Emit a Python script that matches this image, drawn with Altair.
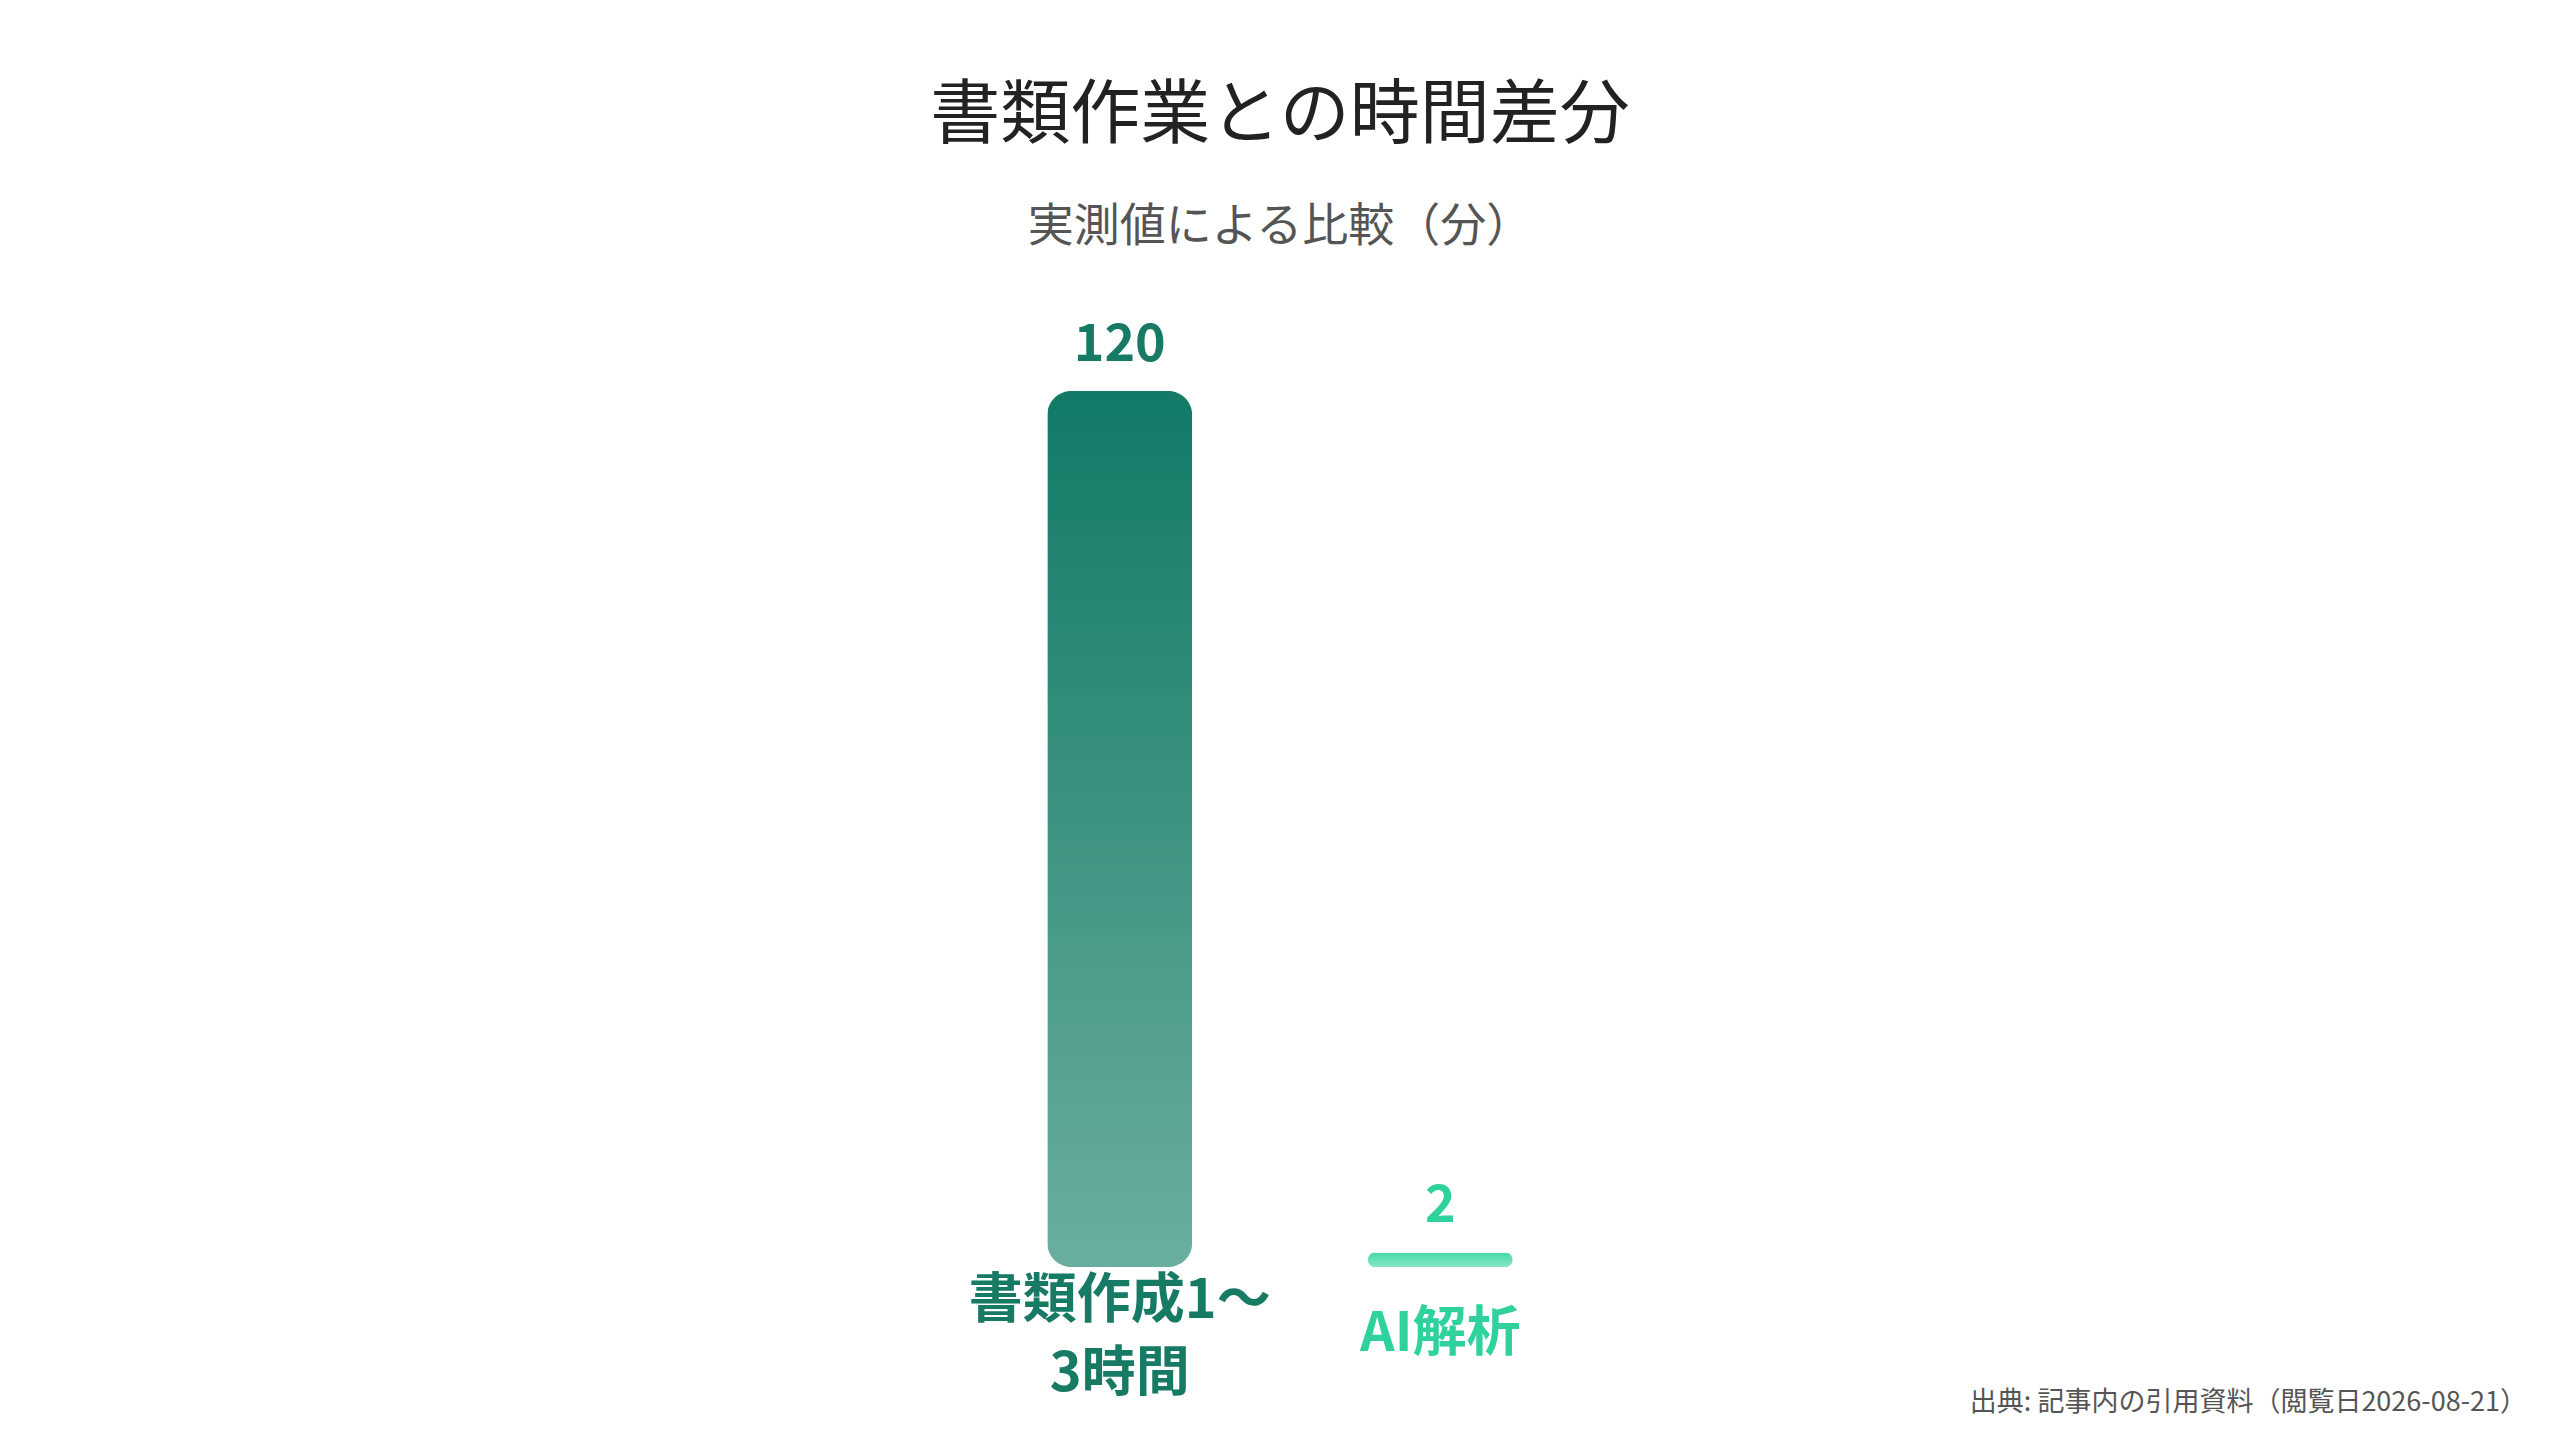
import altair as alt
import pandas as pd

# ---- data ----
categories = ["書類作成1〜3時間", "AI解析"]
values = [120, 2]
label_lines = [["書類作成1〜", "3時間"], ["AI解析"]]
value_labels = ["120", "2"]

title_text = "書類作業との時間差分"
subtitle_text = "実測値による比較（分）"
source_text = "出典: 記事内の引用資料（閲覧日2026-08-21）"

cat_colors = ["#177a64", "#2fd19d"]
FONT = "Noto Sans CJK JP"

df = pd.DataFrame({
    "cat": categories,
    "value": values,
    "lines": label_lines,
    "vlabel": value_labels,
})

W, H = 2544, 1424

xenc = alt.X("cat:N", sort=categories,
             scale=alt.Scale(domain=categories, paddingInner=0.548, paddingOuter=0,
                             range=[1039.3, 1504.7]),
             axis=None)
yscale = alt.Scale(domain=[0, 120], range=[1259, 383], nice=False, zero=True)
cscale = alt.Scale(domain=categories, range=cat_colors)

base = alt.Chart(df).encode(x=xenc)

grad1 = alt.LinearGradient(
    gradient="linear", x1=0, x2=0, y1=0, y2=1,
    stops=[alt.GradientStop(color="#127a66", offset=0),
           alt.GradientStop(color="#6aae9f", offset=1)])
grad2 = alt.LinearGradient(
    gradient="linear", x1=0, x2=0, y1=0, y2=1,
    stops=[alt.GradientStop(color="#45d8a9", offset=0),
           alt.GradientStop(color="#86e6c6", offset=1)])

bar1 = base.transform_filter(alt.datum.cat == categories[0]).mark_bar(
    cornerRadius=24, fill=grad1
).encode(y=alt.Y("value:Q", scale=yscale, axis=None))

bar2 = base.transform_filter(alt.datum.cat == categories[1]).mark_bar(
    cornerRadius=24, fill=grad2
).encode(y=alt.Y("value:Q", scale=yscale, axis=None))

vlabels = base.mark_text(
    baseline="middle", dy=-46, fontSize=52, fontWeight="bold", font=FONT
).encode(
    y=alt.Y("value:Q", scale=yscale, axis=None),
    text="vlabel:N",
    color=alt.Color("cat:N", scale=cscale, legend=None),
)

xlabel1 = base.transform_filter(alt.datum.cat == categories[0]).mark_text(
    baseline="middle", fontSize=54, fontWeight="bold", font=FONT, lineHeight=73
).encode(
    y=alt.value(1294),
    text="lines",
    color=alt.Color("cat:N", scale=cscale, legend=None),
)

xlabel2 = base.transform_filter(alt.datum.cat == categories[1]).mark_text(
    baseline="middle", fontSize=54, fontWeight="bold", font=FONT, lineHeight=73
).encode(
    y=alt.value(1327),
    text="lines",
    color=alt.Color("cat:N", scale=cscale, legend=None),
)

tdf = pd.DataFrame({"t": [title_text], "s": [subtitle_text], "src": [source_text]})

title = alt.Chart(tdf).mark_text(
    baseline="middle", align="center", fontSize=70, color="#222222", font=FONT
).encode(x=alt.value(1272), y=alt.value(109), text="t:N")

subtitle = alt.Chart(tdf).mark_text(
    baseline="middle", align="center", fontSize=46, color="#555555", font=FONT
).encode(x=alt.value(1272), y=alt.value(219), text="s:N")

source = alt.Chart(tdf).mark_text(
    baseline="middle", align="right", fontSize=27, color="#555555", font=FONT
).encode(x=alt.value(2519), y=alt.value(1395), text="src:N")

chart = alt.layer(bar1, bar2, vlabels, xlabel1, xlabel2, title, subtitle, source).properties(
    width=W, height=H,
    autosize=alt.AutoSizeParams(type="none"),
    padding=0,
    background="white",
).configure_view(stroke=None)

chart.save("out.html", embed_options={"renderer": "svg", "actions": False})
